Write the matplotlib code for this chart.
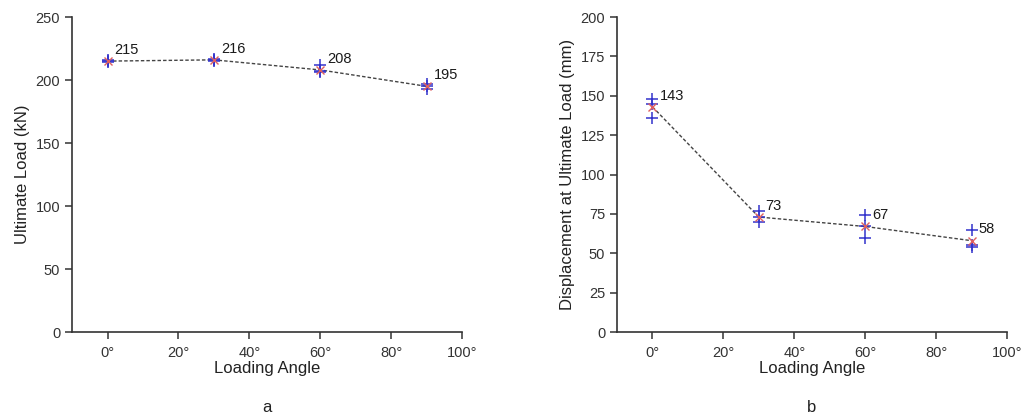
import matplotlib
matplotlib.use("Agg")
import matplotlib.pyplot as plt
import numpy as np

plt.rcParams['font.family'] = ['Liberation Sans', 'DejaVu Sans']

angles = [0, 30, 60, 90]
load_tests = [[214, 216, 215], [215, 217, 216], [212, 206, 207], [197, 193, 195]]
load_mean = [215, 216, 208, 195]
disp_tests = [[148, 145, 136], [77, 73, 70], [74, 67, 60], [65, 54, 55]]
disp_mean = [143, 73, 67, 58]
xticks = [0, 20, 40, 60, 80, 100]
xticklabels = ["0°", "20°", "40°", "60°", "80°", "100°"]

fig = plt.figure(figsize=(10.22, 4.19), dpi=100)
axA = fig.add_axes([0.0705, 0.2076, 0.3816, 0.7518])
axB = fig.add_axes([0.6037, 0.2076, 0.3816, 0.7518])

spine_c = '#333333'

def draw(ax, tests, means, ymax, ystep, ylabel, panel):
    for a, vals in zip(angles, tests):
        ax.plot([a] * len(vals), vals, linestyle='none', marker='+', ms=9,
                mew=1.1, color='#3333cc', zorder=3)
    ax.plot(angles, means, linestyle=(0, (2.5, 1.5)), color='#444444', lw=1.0, zorder=2)
    ax.plot(angles, means, linestyle='none', marker='x', ms=6, mew=1.0,
            color='#e06060', zorder=4)
    for a, m in zip(angles, means):
        ax.annotate(f"{m}", (a, m), xytext=(5, 3), textcoords='offset points',
                    fontsize=10.5, color='#1a1a1a', ha='left', va='bottom')
    ax.set_xlim(-10, 100)
    ax.set_ylim(0, ymax)
    ax.set_xticks(xticks)
    ax.set_xticklabels(xticklabels)
    ax.set_yticks(np.arange(0, ymax + 1, ystep))
    ax.spines['top'].set_visible(False)
    ax.spines['right'].set_visible(False)
    for s in ('left', 'bottom'):
        ax.spines[s].set_color(spine_c)
        ax.spines[s].set_linewidth(1.2)
    ax.tick_params(direction='out', length=5, width=1.1, color=spine_c,
                   labelsize=10.5, labelcolor='#333333')
    ax.tick_params(axis='x', pad=5)
    ax.set_xlabel("Loading Angle", fontsize=12, color='#222222', labelpad=1)
    ax.set_ylabel(ylabel, fontsize=12, color='#222222')
    ax.text(0.5, -0.215, panel, transform=ax.transAxes, ha='center', va='top',
            fontsize=12, color='#222222')

draw(axA, load_tests, load_mean, 250, 50, "Ultimate Load (kN)", "a")
draw(axB, disp_tests, disp_mean, 200, 25, "Displacement at Ultimate Load (mm)", "b")

fig.savefig("out.png", dpi=100)
